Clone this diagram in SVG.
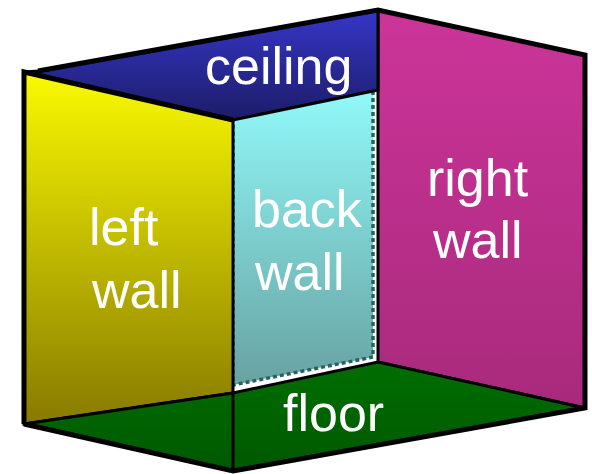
<svg xmlns="http://www.w3.org/2000/svg" width="592" height="474" viewBox="0 0 592 474">
<defs>
<linearGradient id="gCeil" x1="0" y1="0" x2="0" y2="1"><stop offset="0" stop-color="#3636c8"/><stop offset="1" stop-color="#1c1c68"/></linearGradient>
<linearGradient id="gLeft" x1="0" y1="0" x2="0" y2="1"><stop offset="0" stop-color="#fafa00"/><stop offset="1" stop-color="#877a00"/></linearGradient>
<linearGradient id="gBack" x1="0" y1="0" x2="0" y2="1"><stop offset="0" stop-color="#92fafa"/><stop offset="1" stop-color="#68a2a2"/></linearGradient>
<linearGradient id="gRight" x1="0" y1="0" x2="0" y2="1"><stop offset="0" stop-color="#cc3499"/><stop offset="1" stop-color="#a82a7c"/></linearGradient>
<linearGradient id="gFloor" x1="0" y1="0" x2="0" y2="1"><stop offset="0" stop-color="#006e00"/><stop offset="1" stop-color="#005800"/></linearGradient>
</defs>
<style>
.face{stroke:#000;stroke-width:3;stroke-linejoin:miter}
.edge{fill:none;stroke:#000;stroke-width:5;stroke-linejoin:miter}
.lbl{font-family:"Liberation Sans",Arial,sans-serif;font-size:52px;fill:#fff}
</style>
<g id="back-wall">
<polygon points="233,116 373,87 373,357 233,385" fill="url(#gBack)" stroke="#2a6262" stroke-width="3.5" stroke-dasharray="4,3"/>
<text class="lbl" x="252" y="227">back</text>
<text class="lbl" x="255" y="290">wall</text>
</g>
<g id="left-wall">
<polygon class="face" points="24,72 233,120 233,393 24,424" fill="url(#gLeft)"/>
<text class="lbl" x="89" y="245">left</text>
<text class="lbl" x="92" y="308">wall</text>
</g>
<g id="right-wall">
<polygon class="face" points="378,10 585,55 585,408 378,362" fill="url(#gRight)"/>
<text class="lbl" x="427" y="196">right</text>
<text class="lbl" x="433" y="258">wall</text>
</g>
<g id="ceiling">
<polygon class="face" points="38,71 378,10 378,90 233,120 24,72" fill="url(#gCeil)"/>
<text class="lbl" x="205" y="84">ceiling</text>
</g>
<g id="floor">
<polygon class="face" points="24,424 233,393 378,362 585,408 233,471" fill="url(#gFloor)"/>
<line x1="233" y1="393" x2="233" y2="471" stroke="#000" stroke-width="3"/>
<text class="lbl" x="283" y="431">floor</text>
</g>
<g id="connectors">
<path class="edge" d="M24,424 L24,72 L233,120"/>
<path class="edge" d="M38,71 L378,10 L585,55 L585,408 L233,471 L24,424"/>
</g>
</svg>
